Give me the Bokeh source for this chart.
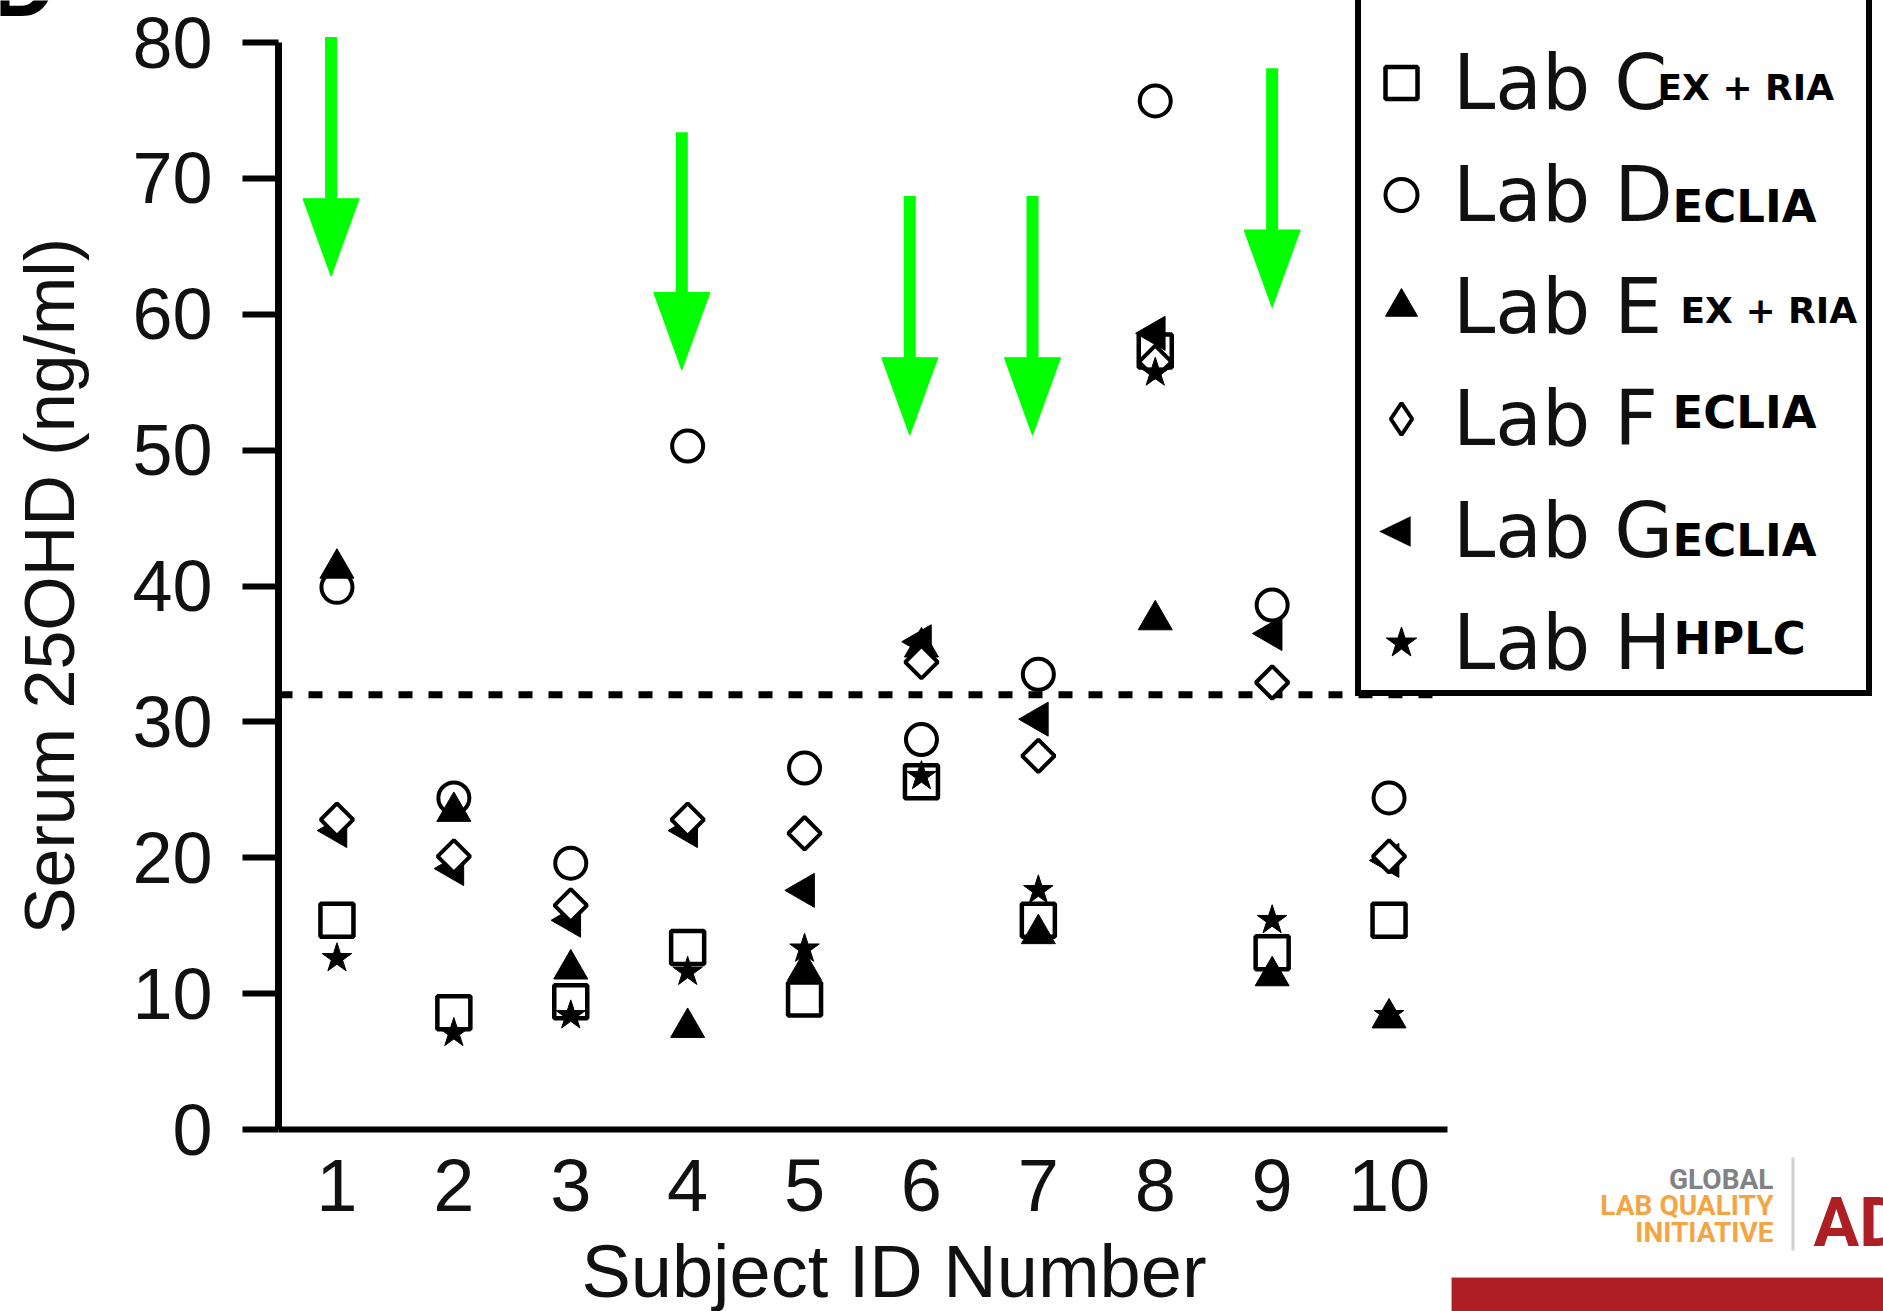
import math
from bokeh.plotting import figure
from bokeh.models import (Range1d, FixedTicker, Legend, LegendItem, Label,
                          BoxAnnotation, PolyAnnotation)
from bokeh.embed import file_html
from bokeh.resources import INLINE

# ---------------- data ----------------
subjects = [1, 2, 3, 4, 5, 6, 7, 8, 9, 10]
lab_c = [15.4, 8.6, 9.4, 13.4, 9.6, 25.6, 15.4, 57.3, 13.0, 15.4]
lab_d = [39.9, 24.4, 19.6, 50.3, 26.6, 28.7, 33.5, 75.7, 38.6, 24.4]
lab_e = [41.3, 23.4, 11.8, 7.5, 11.7, 35.5, 14.4, 37.5, 11.3, 8.2]
lab_f = [22.8, 20.1, 16.5, 22.8, 21.8, 34.4, 27.5, 56.5, 32.9, 20.1]
lab_g = [22.0, 19.2, 15.4, 22.0, 17.6, 35.9, 30.2, 58.6, 36.5, 19.8]
lab_h = [12.6, 7.1, 8.4, 11.6, 13.3, 26.0, 17.6, 55.7, 15.4, 8.4]

legend_labels = ["Lab C", "Lab D", "Lab E", "Lab F", "Lab G", "Lab H"]
methods = ["EX + RIA", "ECLIA", "EX + RIA", "ECLIA", "ECLIA", "HPLC"]

threshold = 32
arrow_x = [0.95, 3.95, 5.9, 6.95, 9.0]
arrow_top = [80.4, 73.4, 68.7, 68.7, 78.1]
arrow_tip = [62.8, 55.9, 51.1, 51.1, 60.5]

y_ticks = [0, 10, 20, 30, 40, 50, 60, 70, 80]
x_ticks = subjects
x_axis_span = (0.5, 10.5)
y_axis_span = (0, 80)

x_title = "Subject ID Number"
y_title = "Serum 25OHD (ng/ml)"

# ---------------- figure ----------------
W, H = 1883, 1311
FONT = "Liberation Sans"
# frame covers the whole canvas; axes are pinned at x=0.5 / y=0
px_per_x = 116.9
px_per_y = 13.5875
ax_left_px, ax_bottom_px = 278, 1129
x_start = x_axis_span[0] - ax_left_px / px_per_x
x_end = x_axis_span[0] + (W - ax_left_px) / px_per_x
y_start = -(H - ax_bottom_px) / px_per_y
y_end = (ax_bottom_px) / px_per_y

p = figure(width=W, height=H, output_backend="svg", toolbar_location=None,
           x_range=Range1d(x_start, x_end), y_range=Range1d(y_start, y_end),
           min_border=0)
p.outline_line_color = None
p.grid.visible = False
p.background_fill_color = "white"
p.border_fill_color = "white"

# x axis line drawn over the data span
p.segment(x0=[x_axis_span[0]], y0=[0], x1=[x_axis_span[1]], y1=[0],
          line_color="black", line_width=6, line_cap="butt")

# axes
xa = p.xaxis[0]
xa.fixed_location = 0
xa.bounds = (x_axis_span[0], 11.03)   # label centred slightly right, as in the original
xa.ticker = FixedTicker(ticks=x_ticks)
xa.major_tick_line_color = None
xa.major_tick_out = 0
xa.major_tick_in = 0
xa.minor_tick_line_color = None
xa.axis_line_color = None
xa.major_label_text_font = FONT
xa.major_label_text_font_size = "74px"
xa.major_label_text_color = "#111111"
xa.major_label_standoff = 30
xa.axis_label = x_title
xa.axis_label_text_font = FONT
xa.axis_label_text_font_size = "74px"
xa.axis_label_text_font_style = "normal"
xa.axis_label_text_color = "#111111"
xa.axis_label_standoff = 16

ya = p.yaxis[0]
ya.fixed_location = x_axis_span[0]
ya.bounds = y_axis_span
ya.ticker = FixedTicker(ticks=y_ticks)
ya.major_tick_out = 36
ya.major_tick_in = 0
ya.major_tick_line_width = 6
ya.major_tick_line_color = "black"
ya.minor_tick_line_color = None
ya.axis_line_width = 7
ya.axis_line_color = "black"
ya.major_label_text_font = FONT
ya.major_label_text_font_size = "72px"
ya.major_label_text_color = "#111111"
ya.major_label_standoff = 30
ya.axis_label = y_title
ya.axis_label_text_font = FONT
ya.axis_label_text_font_size = "70px"
ya.axis_label_text_font_style = "normal"
ya.axis_label_text_color = "#111111"
ya.axis_label_standoff = 40

# threshold line (only over the axis span)
p.segment(x0=[x_axis_span[0]], y0=[threshold], x1=[x_axis_span[1]], y1=[threshold],
          line_color="black", line_width=7, line_dash="14 16", line_cap="butt")

# green arrows
GREEN = "#00ff00"
head_len = 5.7
head_hw = 0.24
head_base = [t + head_len for t in arrow_tip]
p.segment(x0=arrow_x, y0=arrow_top, x1=arrow_x, y1=head_base,
          line_color=GREEN, line_width=12, line_cap="butt")
p.patches(xs=[[x - head_hw, x + head_hw, x] for x in arrow_x],
          ys=[[b, b, t] for b, t in zip(head_base, arrow_tip)],
          fill_color=GREEN, line_color=GREEN, line_width=1)

# markers
r_c = p.scatter(subjects, lab_c, marker="square", size=33, fill_color="white",
                line_color="black", line_width=4.5)
r_d = p.scatter(subjects, lab_d, marker="circle", size=31, fill_color="white",
                line_color="black", line_width=4)
r_e = p.scatter(subjects, lab_e, marker="triangle", size=34, fill_color="black",
                line_color="black", line_width=1)
r_g = p.scatter(subjects, lab_g, marker="triangle", size=34, angle=math.pi / 2,
                fill_color="black", line_color="black", line_width=1)
r_f = p.scatter(subjects, lab_f, marker="square", size=23, angle=math.pi / 4,
                fill_color="white", line_color="black", line_width=4)
r_h = p.scatter(subjects, lab_h, marker="star", size=31, fill_color="black",
                line_color="black", line_width=1)

# legend-only renderers (kept outside the visible ranges)
off = [-100]
dummy = p.scatter(off, off, marker="circle", size=1, fill_alpha=0, line_alpha=0)
leg_f = p.scatter(off, off, marker="diamond", size=10, fill_color="white",
                  line_color="black", line_width=4)
leg_g = p.scatter(off, off, marker="circle", size=1, fill_alpha=0, line_alpha=0)

renderers = [r_c, r_d, r_e, leg_f, leg_g, r_h]
items = [LegendItem(label=" ", renderers=[dummy])]
items += [LegendItem(label=lab, renderers=[r]) for lab, r in zip(legend_labels, renderers)]
LEG_LEFT, LEG_BOTTOM = 1355, 696
legend = Legend(items=items, location=(LEG_LEFT, H - LEG_BOTTOM), orientation="vertical",
                glyph_width=80, glyph_height=95, label_height=95, label_width=413,
                spacing=17, padding=0, label_standoff=12,
                label_text_font="DejaVu Sans", label_text_font_size="76px",
                label_text_color="#111111",
                border_line_color="black", border_line_width=6, border_line_alpha=1.0,
                background_fill_color=None, background_fill_alpha=0.0)
p.add_layout(legend, "center")

# left-pointing triangle key for Lab G (legend glyphs cannot be rotated)
gx, gy = 1395, 531
p.add_layout(PolyAnnotation(xs=[gx - 16, gx + 15, gx + 15], ys=[H - gy, H - gy + 15, H - gy - 15],
                            xs_units="screen", ys_units="screen", level="overlay",
                            fill_color="black", fill_alpha=1.0, line_color="black",
                            line_width=1))

# method annotations next to legend entries (canvas px)
method_pos = [(1657, 87, "36px"), (1672, 206, "45px"), (1680, 310, "36px"),
              (1672, 412, "45px"), (1672, 540, "45px"), (1673, 638, "45px")]
for txt, (cx, cy, fs) in zip(methods, method_pos):
    p.add_layout(Label(x=cx, y=H - cy, x_units="screen", y_units="screen",
                       text=txt, text_font="DejaVu Sans", text_font_style="bold",
                       text_font_size=fs, text_color="black", level="overlay",
                       text_align="left", text_baseline="middle"))

# panel letter (cut off at top)
p.add_layout(Label(x=-10, y=H + 16, x_units="screen", y_units="screen",
                   text="D", text_font=FONT, text_font_style="bold",
                   text_font_size="90px", text_color="black", level="overlay",
                   text_align="left", text_baseline="alphabetic"))

# logo block
logo = [("GLOBAL", "#808285", 1179), ("LAB QUALITY", "#F5A443", 1205),
        ("INITIATIVE", "#F5A443", 1232)]
for txt, col, base in logo:
    p.add_layout(Label(x=1773, y=H - base, x_units="screen", y_units="screen",
                       text=txt, text_font="Roboto", text_font_style="bold",
                       text_font_size="28px", text_color=col, level="overlay",
                       text_align="right", text_baseline="alphabetic"))
p.add_layout(Label(x=1813, y=H - 1222, x_units="screen", y_units="screen",
                   text="AD", text_font="Roboto", text_font_style="bold",
                   text_font_size="68px", text_color="#AE1F24", level="overlay",
                   text_align="left", text_baseline="alphabetic"))
p.add_layout(BoxAnnotation(left=1791, right=1794, top=H - 1157, bottom=H - 1250,
                           left_units="screen", right_units="screen",
                           top_units="screen", bottom_units="screen",
                           fill_color="#cfcfcf", fill_alpha=1.0, line_alpha=0))
p.add_layout(BoxAnnotation(left=1451, right=1900, top=H - 1277, bottom=-20,
                           left_units="screen", right_units="screen",
                           top_units="screen", bottom_units="screen",
                           fill_color="#AE1E24", fill_alpha=1.0, line_color="#c8c8c8",
                           line_width=1))

open("out.html", "w").write(file_html(p, INLINE))
